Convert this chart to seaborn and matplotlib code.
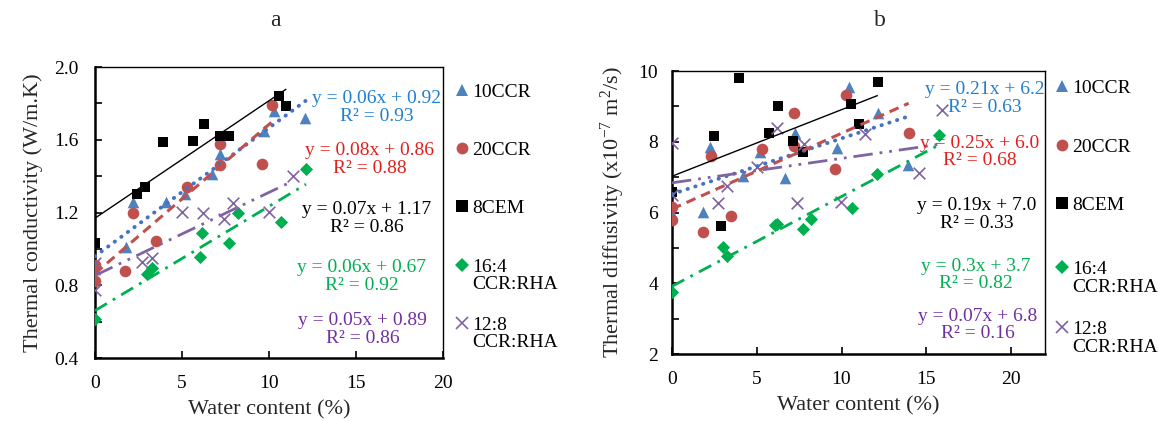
import numpy as np
import pandas as pd
import matplotlib
matplotlib.use("Agg")
import matplotlib.pyplot as plt
import seaborn as sns
from matplotlib.ticker import MultipleLocator

# ---------------- data ----------------
series_names = ["10CCR", "20CCR", "8CEM", "16:4\nCCR:RHA", "12:8\nCCR:RHA"]

# Panel a: thermal conductivity (W/m.K)
a_10ccr_x = [0, 1.8, 2.2, 4.1, 5.2, 6.7, 7.2, 9.7, 10.3, 12.1]
a_10ccr_y = [0.89, 1.01, 1.26, 1.26, 1.30, 1.41, 1.52, 1.65, 1.76, 1.72]
a_20ccr_x = [0, 0, 1.7, 2.2, 3.5, 5.3, 7.2, 7.2, 9.6, 10.2]
a_20ccr_y = [0.91, 0.825, 0.88, 1.20, 1.045, 1.34, 1.575, 1.46, 1.465, 1.79]
a_8cem_x = [0, 2.4, 2.9, 3.9, 5.65, 6.26, 7.18, 7.72, 10.6, 11.0]
a_8cem_y = [1.03, 1.30, 1.34, 1.59, 1.595, 1.687, 1.62, 1.62, 1.84, 1.786]
a_164_x = [0, 2.97, 3.26, 6.03, 6.13, 7.72, 8.2, 10.69, 12.13]
a_164_y = [0.613, 0.862, 0.893, 0.954, 1.086, 1.031, 1.196, 1.146, 1.438]
a_128_x = [0, 0, 2.68, 3.26, 4.98, 6.23, 7.41, 7.91, 10.02, 11.36]
a_128_y = [0.92, 0.776, 0.93, 0.948, 1.205, 1.199, 1.163, 1.25, 1.205, 1.40]

# Panel b: thermal diffusivity (x10^-7 m2/s)
b_10ccr_x = [0, 1.84, 2.27, 4.16, 5.18, 6.69, 7.24, 9.75, 10.43, 12.14, 13.9]
b_10ccr_y = [5.95, 6.02, 7.86, 7.03, 7.72, 6.97, 8.26, 7.83, 9.54, 8.80, 7.34]
b_20ccr_x = [0, 0, 1.8, 2.29, 3.51, 5.31, 7.2, 7.2, 9.59, 10.27, 13.96]
b_20ccr_y = [6.16, 5.79, 5.46, 7.60, 5.90, 7.79, 8.82, 7.88, 7.22, 9.32, 8.24]
b_8cem_x = [0, 2.47, 2.92, 3.94, 5.71, 6.25, 7.14, 7.73, 10.57, 11.02, 12.14]
b_8cem_y = [6.59, 8.16, 5.63, 9.79, 8.26, 9.01, 8.03, 7.72, 9.06, 8.50, 9.68]
b_164_x = [0, 3.02, 3.22, 6.1, 6.2, 7.72, 8.18, 10.63, 12.1, 15.72]
b_164_y = [3.76, 5.03, 4.78, 5.64, 5.68, 5.53, 5.83, 6.12, 7.09, 8.19]
b_128_x = [0, 0, 2.73, 3.27, 5.04, 6.22, 7.37, 7.78, 9.98, 11.39, 14.55, 15.92]
b_128_y = [7.96, 6.50, 6.26, 6.75, 7.28, 8.38, 6.28, 7.94, 6.31, 8.22, 7.11, 8.90]

a_equations = ["y = 0.06x + 0.92", "y = 0.08x + 0.86", "y = 0.07x + 1.17",
               "y = 0.06x + 0.67", "y = 0.05x + 0.89"]
a_r2 = ["R² = 0.93", "R² = 0.88", "R² = 0.86", "R² = 0.92", "R² = 0.86"]
b_equations = ["y = 0.21x + 6.2", "y = 0.25x + 6.0", "y = 0.19x + 7.0",
               "y = 0.3x + 3.7", "y = 0.07x + 6.8"]
b_r2 = ["R² = 0.63", "R² = 0.68", "R² = 0.33", "R² = 0.82", "R² = 0.16"]

a_xticks = [0, 5, 10, 15, 20]
b_xticks = [0, 5, 10, 15, 20]

# ---------------- styles ----------------
markers = ["^", "o", "s", "D", "x"]
marker_sizes = [70, 70, 60, 45, 70]
marker_colors = ["#4F81BD", "#C0504D", "#000000", "#00B050", "#8064A2"]
line_colors = ["#4472C4", "#C0504D", "#000000", "#00B050", "#8064A2"]
line_styles = [(0, (0.1, 2.0)), (0, (3.2, 2.0)), "-", (0, (5, 2.5, 1, 2.5)),
               (0, (7, 2.5, 1, 2.5, 1, 2.5))]
line_widths = [2.8, 2.2, 1.0, 2.0, 2.0]
caps = ["round", "butt", "butt", "butt", "butt"]
text_colors = ["#1F7FD0", "#E0201C", "#000000", "#00B050", "#7030A0"]

sns.set_theme(style="white")
plt.rcParams["font.family"] = ["Liberation Serif", "DejaVu Serif"]
plt.rcParams["mathtext.fontset"] = "custom"
plt.rcParams["mathtext.rm"] = "Liberation Serif"
plt.rcParams["mathtext.it"] = "Liberation Serif:italic"
plt.rcParams["mathtext.bf"] = "Liberation Serif:bold"

FS = 14

fig = plt.figure(figsize=(11.58, 4.21), dpi=100)
ax_a = fig.add_axes([0.0820, 0.1496, 0.3005, 0.6912])
ax_b = fig.add_axes([0.5803, 0.1591, 0.3221, 0.6722])


def draw(ax, xs_list, ys_list, eqs, r2s, eq_pos, leg_x, leg_ys, xlim, ylim,
         ymaj, ymin_, xticks, ylabel, ylabel_pad, ytick_pad):
    for i in range(5):
        xs = np.asarray(xs_list[i], dtype=float)
        ys = np.asarray(ys_list[i], dtype=float)
        kw = dict(marker=markers[i], s=marker_sizes[i], color=marker_colors[i],
                  ax=ax, zorder=3 + i * 0.1, legend=False)
        if markers[i] == "x":
            kw["linewidth"] = 1.2
        else:
            kw["linewidth"] = 0
        sns.scatterplot(x=xs, y=ys, **kw)
    for i in range(5):
        xs = np.asarray(xs_list[i], dtype=float)
        ys = np.asarray(ys_list[i], dtype=float)
        sns.regplot(x=xs, y=ys, ax=ax, scatter=False, ci=None, truncate=True,
                    line_kws=dict(color=line_colors[i], lw=line_widths[i],
                                  ls=line_styles[i], zorder=6,
                                  dash_capstyle=caps[i], solid_capstyle=caps[i]))
    # trendline labels
    for i in range(5):
        ax.text(eq_pos[i][0], eq_pos[i][1], eqs[i] + "\n" + r2s[i],
                transform=ax.transAxes, ha="center", va="center",
                multialignment="center", color=text_colors[i], fontsize=FS,
                linespacing=1.05, zorder=8)
    # legend
    for i in range(5):
        ax.plot([leg_x], [leg_ys[i]], marker=markers[i], ls="none",
                color=marker_colors[i], ms=8.5 if markers[i] != "D" else 7.5,
                mew=1.2 if markers[i] == "x" else 0,
                transform=ax.transAxes, clip_on=False)
        ax.annotate(series_names[i], xy=(leg_x, leg_ys[i]), xycoords="axes fraction",
                    xytext=(7, 4.5), textcoords="offset points", ha="left", va="top",
                    fontsize=FS, color="black", linespacing=1.05, annotation_clip=False)
    ax.set_xlim(*xlim)
    ax.set_ylim(*ylim)
    ax.set_xticks(xticks)
    ax.yaxis.set_major_locator(MultipleLocator(ymaj))
    ax.yaxis.set_minor_locator(MultipleLocator(ymin_))
    ax.tick_params(axis="x", which="both", direction="in", length=5, width=1.2,
                   bottom=True, top=False, pad=12, labelsize=FS, colors="black")
    ax.tick_params(axis="y", which="both", direction="in", length=5, width=1.2,
                   left=True, right=False, pad=ytick_pad, labelsize=FS, colors="black")
    for s in ["left", "bottom"]:
        ax.spines[s].set_linewidth(1.8)
        ax.spines[s].set_color("black")
    for s in ["top", "right"]:
        ax.spines[s].set_linewidth(1.0)
        ax.spines[s].set_color("black")
    ax.set_xlabel("Water content (%)", fontsize=16, labelpad=6)
    ax.set_ylabel(ylabel, fontsize=16, labelpad=ylabel_pad)


draw(ax_a,
     [a_10ccr_x, a_20ccr_x, a_8cem_x, a_164_x, a_128_x],
     [a_10ccr_y, a_20ccr_y, a_8cem_y, a_164_y, a_128_y],
     a_equations, a_r2,
     [(0.810, 0.862), (0.790, 0.682), (0.782, 0.479), (0.767, 0.280), (0.770, 0.098)],
     1.055, [0.921, 0.722, 0.522, 0.320, 0.120],
     (0, 20), (0.4, 2.0), 0.4, 0.2, a_xticks,
     "Thermal conductivity (W/m.K)", 8, 12)

draw(ax_b,
     [b_10ccr_x, b_20ccr_x, b_8cem_x, b_164_x, b_128_x],
     [b_10ccr_y, b_20ccr_y, b_8cem_y, b_164_y, b_128_y],
     b_equations, b_r2,
     [(0.839, 0.903), (0.826, 0.714), (0.818, 0.493), (0.815, 0.279), (0.820, 0.102)],
     1.046, [0.947, 0.739, 0.534, 0.307, 0.095],
     (0, 22), (2, 10), 2, 1, b_xticks,
     r"Thermal diffusivity (x10$^{-7}$ m$^{2}$/s)", 8, 10)

fig.text(275 / 1158, 1 - 20 / 421, "a", ha="center", va="center", fontsize=17)
fig.text(880 / 1158, 1 - 20 / 421, "b", ha="center", va="center", fontsize=17)

fig.savefig("out.png", dpi=100)
